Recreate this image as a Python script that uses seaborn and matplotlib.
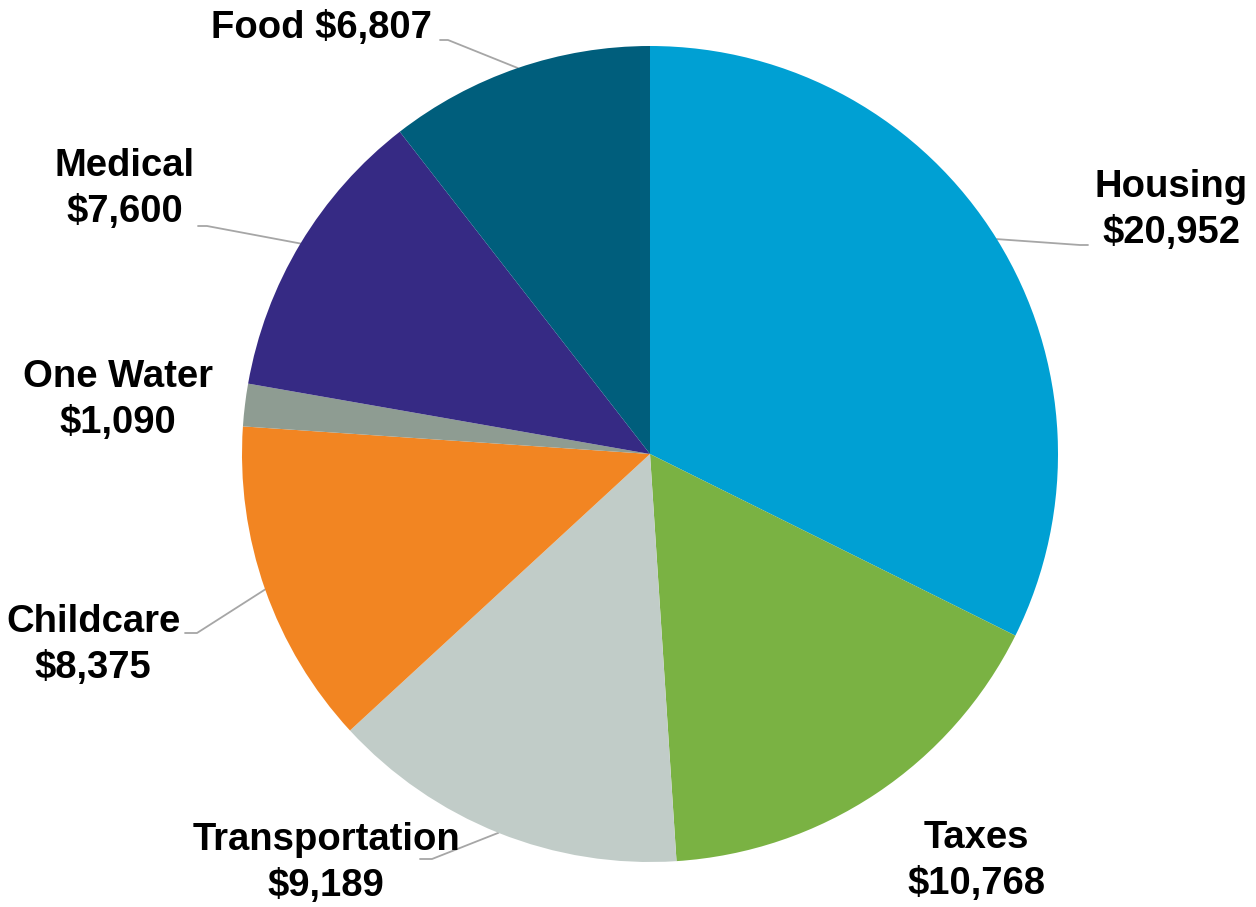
import numpy as np
import seaborn as sns
import matplotlib.pyplot as plt

categories = ['Housing', 'Taxes', 'Transportation', 'Childcare', 'One Water', 'Medical', 'Food']
values = [20952, 10768, 9189, 8375, 1090, 7600, 6807]
colors = ['#00A0D3', '#7AB243', '#C1CCC8', '#F28522', '#8E9C92', '#362A84', '#005E7C']

sns.set_theme(style='white')
plt.rcParams['font.family'] = ['Liberation Sans', 'DejaVu Sans']

W, H = 1256, 907
cx, cy, R = 650, 454, 408


def px(x, y):
    # pixel position -> data units (pie radius = 1)
    return (x - cx) / R, (cy - y) / R


fig = plt.figure(figsize=(W / 100, H / 100), dpi=100)
ax = fig.add_axes([0, 0, 1, 1])
wedges, _ = ax.pie(values, colors=colors, startangle=90, counterclock=False,
                   radius=1, center=(0, 0), wedgeprops=dict(linewidth=0))
ax.set_xlim(-cx / R, (W - cx) / R)
ax.set_ylim(-(H - cy) / R, cy / R)
ax.set_aspect('auto')
ax.axis('off')

# label layout: text centre (px), alignment, leader path points (px) or None
layout = {
    'Housing': ((1171, 210), 'center', [(1088, 245), (1080, 245)]),
    'Taxes': ((976, 861), 'center', None),
    'Transportation': ((326, 863), 'center', [(420, 859), (432, 859)]),
    'Childcare': ((93, 645), 'center', [(185, 633), (197, 633)]),
    'One Water': ((118, 400), 'center', None),
    'Medical': ((125, 189), 'center', [(198, 226), (207, 226)]),
    'Food': ((432, 28), 'right', [(440, 40), (448, 40)]),
}

for w, cat, val in zip(wedges, categories, values):
    (tx, ty), ha, leader = layout[cat]
    sep = ' ' if cat == 'Food' else '\n'
    ax.text(*px(tx, ty), f'{cat}{sep}${val:,}', ha=ha, va='center',
            fontsize=27.5, fontweight='bold', color='black', linespacing=1.36)
    if leader is not None:
        ang = np.deg2rad((w.theta1 + w.theta2) / 2)
        pts = [px(*p) for p in leader] + [(np.cos(ang), np.sin(ang))]
        xs, ys = zip(*pts)
        ax.plot(xs, ys, color='#A6A6A6', lw=1.3, zorder=0)

fig.savefig('out.png', dpi=100)
